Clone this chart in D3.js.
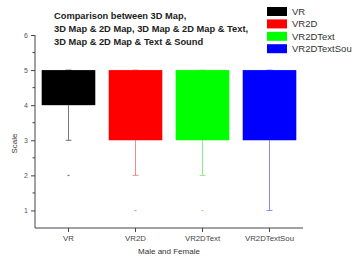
<!DOCTYPE html>
<html lang="en">
<head>
<meta charset="UTF-8">
<script src="https://d3js.org/d3.v7.min.js"></script>
<style>
  body { margin: 0; background: #fff; }
  svg text { font-family: "Liberation Sans", Arial, sans-serif; }
</style>
</head>
<body>
<svg id="chart" width="358" height="258"></svg>
<script>
const categories = ["VR", "VR2D", "VR2DText", "VR2DTextSou"];
const q1 = [4, 3, 3, 3];
const q3 = [5, 5, 5, 5];
const whiskerLow = [3, 2, 2, 1];
const whiskerHigh = [5, 5, 5, 5];
const outliers = [[2], [1], [1], []];
const colors = ["#000000", "#ff0000", "#00ff00", "#0000ff"];
const whiskerColors = ["#777777", "#e89090", "#8ee88e", "#8c8cee"];
const yTicks = [1, 2, 3, 4, 5, 6];
const titleLines = [
  "Comparison between 3D Map,",
  "3D Map & 2D Map, 3D Map & 2D Map & Text,",
  "3D Map & 2D Map & Text & Sound"
];

const svg = d3.select("#chart");
const plotL = 35, plotR = 303, plotT = 35, plotB = 228;

const x = d3.scaleBand().domain(categories).range([plotL, plotR]).paddingInner(0.2).paddingOuter(0.1);
const y = d3.scaleLinear().domain([0.5, 6]).range([plotB, plotT]);

// boxes
categories.forEach((c, i) => {
  const cx = x(c) + x.bandwidth() / 2;
  const g = svg.append("g");
  g.append("line")
    .attr("x1", cx).attr("x2", cx)
    .attr("y1", y(q1[i])).attr("y2", y(whiskerLow[i]))
    .attr("stroke", whiskerColors[i]).attr("stroke-width", 1);
  [whiskerLow[i], whiskerHigh[i]].forEach(v => {
    g.append("line")
      .attr("x1", cx - 3).attr("x2", cx + 3)
      .attr("y1", y(v)).attr("y2", y(v))
      .attr("stroke", whiskerColors[i]).attr("stroke-width", 1);
  });
  g.append("rect")
    .attr("x", x(c)).attr("width", x.bandwidth())
    .attr("y", y(q3[i])).attr("height", y(q1[i]) - y(q3[i]))
    .attr("fill", colors[i]);
  outliers[i].forEach(v => {
    g.append("rect")
      .attr("x", cx - 1).attr("y", y(v) - 0.5)
      .attr("width", 2).attr("height", 1.2)
      .attr("fill", whiskerColors[i]);
  });
});

// y axis
const yAxis = d3.axisLeft(y).tickValues(yTicks).tickFormat(d3.format("d")).tickSize(4).tickPadding(3);
const yg = svg.append("g").attr("transform", `translate(${plotL},0)`).call(yAxis);
yg.select(".domain").attr("d", `M0,${plotT}V${plotB}`).attr("stroke", "#444");
yg.selectAll(".tick line").attr("stroke", "#444");
yg.selectAll("text").attr("font-size", 7).attr("fill", "#555");
const minor = d3.range(1.5, 6, 1);
yg.selectAll(".minor").data(minor).enter().append("line")
  .attr("class", "minor")
  .attr("x1", -2.5).attr("x2", 0)
  .attr("y1", d => y(d)).attr("y2", d => y(d))
  .attr("stroke", "#444");

// x axis
const xAxis = d3.axisBottom(x).tickSize(4).tickPadding(3);
const xg = svg.append("g").attr("transform", `translate(0,${plotB})`).call(xAxis);
xg.select(".domain").attr("d", `M${plotL},0H${plotR}`).attr("stroke", "#444");
xg.selectAll(".tick line").attr("stroke", "#444");
xg.selectAll("text").attr("font-size", 7.8).attr("fill", "#444");

// axis titles
svg.append("text")
  .attr("x", (plotL + plotR) / 2).attr("y", 254)
  .attr("text-anchor", "middle").attr("font-size", 8).attr("fill", "#333")
  .text("Male and Female");
svg.append("text")
  .attr("transform", `translate(17,${(plotT + plotB) / 2 + 12}) rotate(-90)`)
  .attr("text-anchor", "middle").attr("font-size", 8).attr("fill", "#333")
  .text("Scale");

// title
svg.append("g").selectAll("text").data(titleLines).enter().append("text")
  .attr("x", 54).attr("y", (d, i) => 19 + i * 13)
  .attr("font-size", 9.3).attr("font-weight", "bold").attr("fill", "#222")
  .text(d => d);

// legend
const lg = svg.append("g").attr("transform", "translate(267,7)");
categories.forEach((c, i) => {
  lg.append("rect")
    .attr("x", 0).attr("y", i * 12.4).attr("width", 20).attr("height", 9)
    .attr("fill", colors[i]);
  lg.append("text")
    .attr("x", 25).attr("y", i * 12.4 + 8)
    .attr("font-size", 9.5).attr("fill", "#333")
    .text(c);
});
</script>
</body>
</html>
